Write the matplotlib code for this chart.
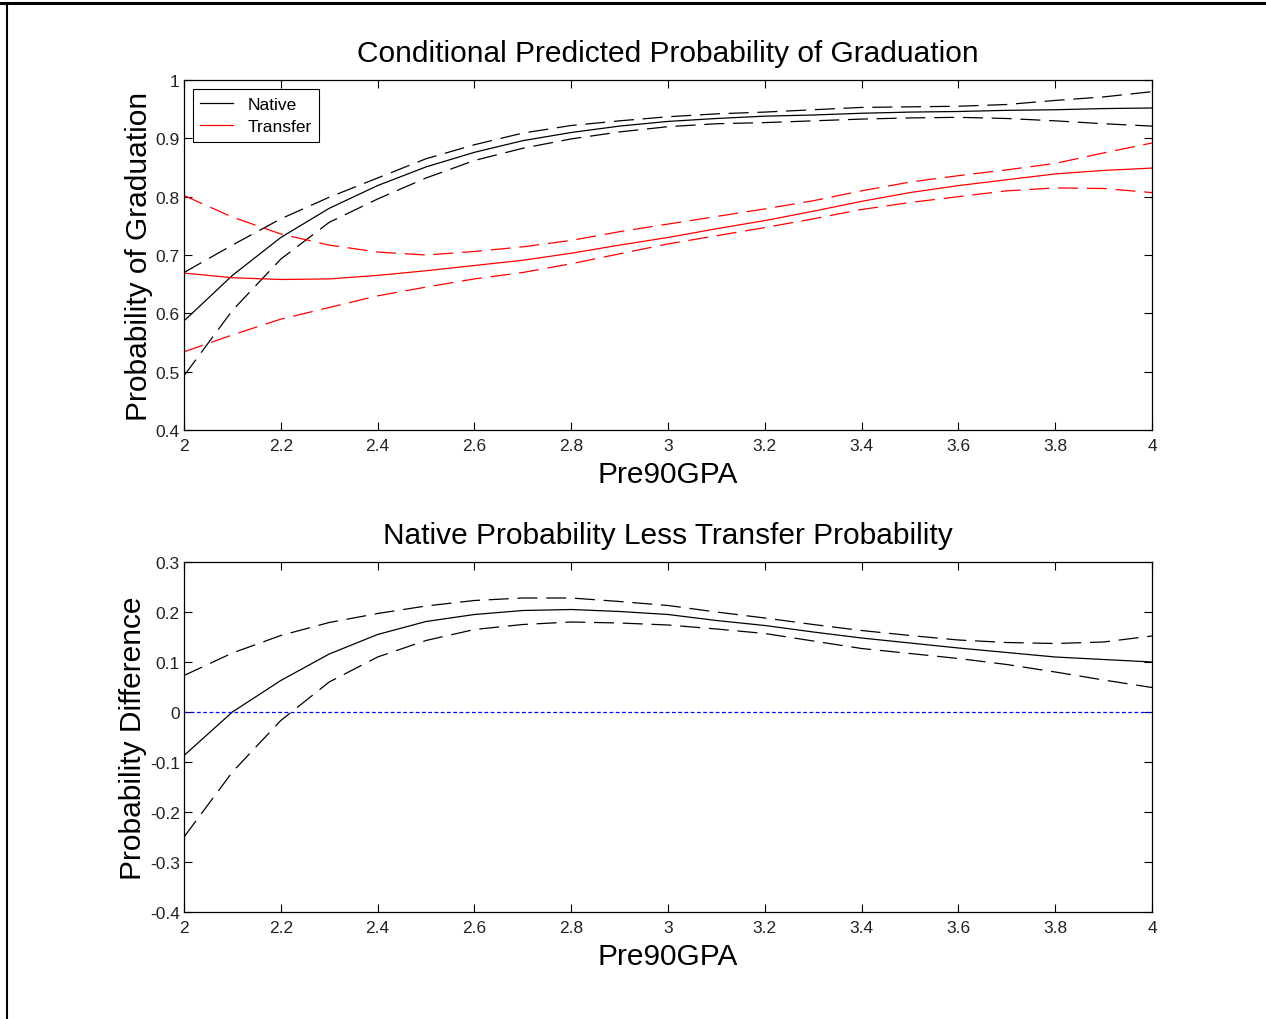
import matplotlib
matplotlib.use('Agg')
import matplotlib.pyplot as plt
from matplotlib.lines import Line2D

# data
gpa = [2.0, 2.1, 2.2, 2.3, 2.4, 2.5, 2.6, 2.7, 2.8, 2.9, 3.0,
       3.1, 3.2, 3.3, 3.4, 3.5, 3.6, 3.7, 3.8, 3.9, 4.0]

native = [0.587, 0.665, 0.730, 0.780, 0.819, 0.851, 0.876, 0.896, 0.910, 0.921, 0.929,
          0.934, 0.938, 0.940, 0.943, 0.945, 0.946, 0.948, 0.949, 0.951, 0.952]
native_hi = [0.670, 0.717, 0.762, 0.799, 0.832, 0.865, 0.889, 0.909, 0.922, 0.930, 0.937,
             0.942, 0.945, 0.949, 0.953, 0.954, 0.955, 0.958, 0.965, 0.971, 0.980]
native_lo = [0.493, 0.605, 0.693, 0.756, 0.796, 0.832, 0.862, 0.883, 0.899, 0.911, 0.920,
             0.925, 0.927, 0.930, 0.933, 0.935, 0.936, 0.934, 0.930, 0.925, 0.921]

transfer = [0.669, 0.661, 0.658, 0.659, 0.665, 0.673, 0.682, 0.691, 0.703, 0.717, 0.730,
            0.745, 0.759, 0.775, 0.792, 0.807, 0.819, 0.829, 0.839, 0.845, 0.849]
transfer_hi = [0.802, 0.765, 0.736, 0.717, 0.705, 0.700, 0.706, 0.714, 0.725, 0.740, 0.753,
               0.766, 0.779, 0.793, 0.810, 0.825, 0.836, 0.846, 0.857, 0.875, 0.892]
transfer_lo = [0.534, 0.563, 0.590, 0.610, 0.630, 0.645, 0.659, 0.670, 0.685, 0.702, 0.719,
               0.733, 0.747, 0.762, 0.778, 0.790, 0.800, 0.810, 0.815, 0.814, 0.807]

diff = [-0.087, 0.000, 0.063, 0.116, 0.155, 0.181, 0.195, 0.203, 0.205, 0.201, 0.195,
        0.183, 0.173, 0.160, 0.148, 0.138, 0.128, 0.119, 0.110, 0.105, 0.100]
diff_hi = [0.073, 0.118, 0.153, 0.179, 0.197, 0.212, 0.223, 0.228, 0.228, 0.221, 0.213,
           0.200, 0.188, 0.175, 0.163, 0.153, 0.144, 0.139, 0.137, 0.140, 0.152]
diff_lo = [-0.250, -0.120, -0.017, 0.060, 0.110, 0.143, 0.165, 0.175, 0.180, 0.178, 0.174,
           0.166, 0.157, 0.142, 0.127, 0.117, 0.107, 0.095, 0.080, 0.064, 0.049]

xticks = [2, 2.2, 2.4, 2.6, 2.8, 3, 3.2, 3.4, 3.6, 3.8, 4]
xticklabels = ['2', '2.2', '2.4', '2.6', '2.8', '3', '3.2', '3.4', '3.6', '3.8', '4']
yticks_top = [0.4, 0.5, 0.6, 0.7, 0.8, 0.9, 1]
yticks_bot = [-0.4, -0.3, -0.2, -0.1, 0, 0.1, 0.2, 0.3]

plt.rcParams['font.family'] = ['Liberation Sans', 'DejaVu Sans']

W, H = 1266, 1020
fig = plt.figure(figsize=(W / 100, H / 100), dpi=100)

dash = (0, (16, 7))
lw = 0.9
big = 21.5


def style_axes(ax):
    ax.set_xlim(2, 4)
    ax.set_xticks(xticks)
    ax.set_xticklabels(xticklabels)
    ax.tick_params(direction='in', length=6, width=0.8, top=True, right=True,
                   labelsize=12.5, colors='black', labelcolor='#222222')
    ax.tick_params(axis='x', pad=6)
    ax.tick_params(axis='y', pad=3)
    for s in ax.spines.values():
        s.set_linewidth(0.9)


# top panel
ax1 = fig.add_axes([184 / W, 1 - 431 / H, 968 / W, 350 / H])
ax1.plot(gpa, native, color='black', lw=lw)
ax1.plot(gpa, native_hi, color='black', lw=lw, ls=dash)
ax1.plot(gpa, native_lo, color='black', lw=lw, ls=dash)
ax1.plot(gpa, transfer, color='red', lw=lw)
ax1.plot(gpa, transfer_hi, color='red', lw=lw, ls=dash)
ax1.plot(gpa, transfer_lo, color='red', lw=lw, ls=dash)
style_axes(ax1)
ax1.set_ylim(0.4, 1)
ax1.set_yticks(yticks_top)
ax1.set_yticklabels(['0.4', '0.5', '0.6', '0.7', '0.8', '0.9', '1'])
ax1.set_title('Conditional Predicted Probability of Graduation', fontsize=big, pad=14)
ax1.set_xlabel('Pre90GPA', fontsize=big, labelpad=5)
ax1.set_ylabel('Probability of Graduation', fontsize=big, labelpad=2)
handles = [Line2D([], [], color='black', lw=lw), Line2D([], [], color='red', lw=lw)]
leg = ax1.legend(handles, ['Native', 'Transfer'], loc='upper left', fontsize=12.5,
                 fancybox=False, framealpha=1, edgecolor='black',
                 borderaxespad=0.5, handlelength=1.9, labelspacing=0.4,
                 borderpad=0.45)
leg.get_frame().set_linewidth(0.8)

# bottom panel
ax2 = fig.add_axes([184 / W, 1 - 913 / H, 968 / W, 350 / H])
ax2.plot(gpa, diff, color='black', lw=lw)
ax2.plot(gpa, diff_hi, color='black', lw=lw, ls=dash)
ax2.plot(gpa, diff_lo, color='black', lw=lw, ls=dash)
ax2.axhline(0, color='blue', lw=lw, ls=(0, (3, 2)))
style_axes(ax2)
ax2.set_ylim(-0.4, 0.3)
ax2.set_yticks(yticks_bot)
ax2.set_yticklabels(['-0.4', '-0.3', '-0.2', '-0.1', '0', '0.1', '0.2', '0.3'])
ax2.set_title('Native Probability Less Transfer Probability', fontsize=big, pad=14)
ax2.set_xlabel('Pre90GPA', fontsize=big, labelpad=5)
ax2.set_ylabel('Probability Difference', fontsize=big, labelpad=2)

# frame lines from the surrounding document table
fig.add_artist(Line2D([0, 1], [1 - 4 / H, 1 - 4 / H], color='black', lw=2.2,
                      transform=fig.transFigure))
fig.add_artist(Line2D([7 / W, 7 / W], [0, 1 - 4 / H], color='black', lw=1.5,
                      transform=fig.transFigure))

fig.savefig('out.png', dpi=100)
